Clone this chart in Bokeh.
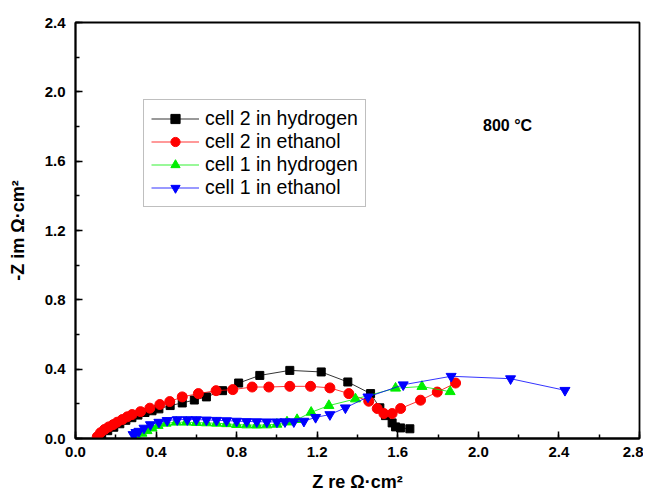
from bokeh.plotting import figure
from bokeh.models import Range1d, Legend, LegendItem, Label, SingleIntervalTicker, CustomJSTickFormatter
from bokeh.embed import file_html
from bokeh.resources import INLINE

# cell 2 in hydrogen
c2h_x = [0.13, 0.16, 0.19, 0.22, 0.25, 0.28, 0.31, 0.345, 0.38, 0.414, 0.47, 0.53, 0.59, 0.65,
         0.73, 0.81, 0.915, 1.064, 1.22, 1.352, 1.465, 1.511, 1.539, 1.572, 1.589, 1.614, 1.66]
c2h_y = [0.02, 0.045, 0.065, 0.085, 0.105, 0.12, 0.135, 0.15, 0.16, 0.171, 0.19, 0.205, 0.222, 0.24,
         0.276, 0.32, 0.364, 0.393, 0.384, 0.326, 0.259, 0.177, 0.132, 0.09, 0.067, 0.061, 0.056]
# cell 2 in ethanol
c2e_x = [0.108, 0.124, 0.144, 0.165, 0.187, 0.207, 0.232, 0.257, 0.281, 0.323, 0.369, 0.419, 0.468,
         0.53, 0.61, 0.698, 0.781, 0.877, 0.96, 1.064, 1.167, 1.263, 1.357, 1.456, 1.498, 1.531,
         1.572, 1.614, 1.713, 1.796, 1.887]
c2e_y = [0.01, 0.033, 0.052, 0.067, 0.08, 0.094, 0.109, 0.125, 0.138, 0.155, 0.175, 0.196, 0.213,
         0.24, 0.259, 0.276, 0.282, 0.297, 0.297, 0.301, 0.301, 0.292, 0.259, 0.215, 0.173, 0.144,
         0.144, 0.173, 0.221, 0.268, 0.32]
# cell 1 in hydrogen
c1h_x = [0.306, 0.33, 0.355, 0.38, 0.41, 0.45, 0.5, 0.55, 0.6, 0.65, 0.7, 0.75, 0.8, 0.85, 0.9,
         0.95, 1.0, 1.05, 1.1, 1.17, 1.258, 1.39, 1.589, 1.72, 1.86]
c1h_y = [0.01, 0.03, 0.045, 0.06, 0.075, 0.088, 0.094, 0.094, 0.092, 0.09, 0.088, 0.085, 0.08, 0.078,
         0.077, 0.078, 0.082, 0.095, 0.109, 0.151, 0.19, 0.228, 0.29, 0.30, 0.27]
# cell 1 in ethanol
c1e_x = [0.286, 0.30, 0.315, 0.34, 0.372, 0.414, 0.455, 0.505, 0.555, 0.6, 0.65, 0.7, 0.75, 0.8,
         0.85, 0.9, 0.95, 1.0, 1.04, 1.084, 1.134, 1.192, 1.263, 1.34, 1.452, 1.627, 1.865, 2.16, 2.43]
c1e_y = [0.023, 0.035, 0.042, 0.06, 0.08, 0.094, 0.104, 0.109, 0.109, 0.109, 0.107, 0.105, 0.103, 0.1,
         0.098, 0.097, 0.096, 0.096, 0.097, 0.097, 0.1, 0.122, 0.138, 0.177, 0.24, 0.31, 0.359, 0.345, 0.278]

FONT = "Liberation Sans"

p = figure(width=643, height=494, output_backend="svg", toolbar_location=None,
           x_range=Range1d(0, 2.8001), y_range=Range1d(0, 2.4001),
           min_border_left=75, min_border_top=22, min_border_right=4, min_border_bottom=55)
p.background_fill_color = "white"
p.border_fill_color = "white"
p.grid.visible = False
p.outline_line_color = "black"
p.outline_line_width = 1.8

p.xaxis.ticker = SingleIntervalTicker(interval=0.4, num_minor_ticks=2)
p.yaxis.ticker = SingleIntervalTicker(interval=0.4, num_minor_ticks=2)
for ax in (p.xaxis[0], p.yaxis[0]):
    ax.major_tick_in = 7
    ax.major_tick_out = 0
    ax.minor_tick_in = 4
    ax.minor_tick_out = 0
    ax.axis_line_width = 1.8
    ax.major_tick_line_width = 1.5
    ax.minor_tick_line_width = 1.5
    ax.major_label_text_font = FONT
    ax.major_label_text_font_style = "bold"
    ax.major_label_text_font_size = "15px"
    ax.major_label_text_color = "black"
    ax.axis_label_text_font = FONT
    ax.axis_label_text_font_style = "bold"
    ax.axis_label_text_font_size = "18px"
    ax.axis_label_text_color = "black"
fmt = CustomJSTickFormatter(code="return tick.toFixed(1);")
p.xaxis.formatter = fmt
p.yaxis.formatter = fmt
p.xaxis.axis_label = "Z re \u03a9\u00b7cm\u00b2"
p.yaxis.axis_label = "-Z im \u03a9\u00b7cm\u00b2"
p.xaxis.major_label_standoff = 8
p.yaxis.major_label_standoff = 10
p.xaxis.axis_label_standoff = 12
p.yaxis.axis_label_standoff = 14

series = [
    ("cell 2 in hydrogen", c2h_x, c2h_y, "black", "square", 8),
    ("cell 2 in ethanol", c2e_x, c2e_y, "red", "circle", 10),
    ("cell 1 in hydrogen", c1h_x, c1h_y, "#00ee00", "triangle", 10),
    ("cell 1 in ethanol", c1e_x, c1e_y, "blue", "inverted_triangle", 10),
]
items = []
for label, xs, ys, col, marker, size in series:
    lr = p.line(xs, ys, line_color=col, line_width=1, line_alpha=0.8)
    sr = p.scatter(xs, ys, marker=marker, size=size, fill_color=col, line_color=col)
    items.append(LegendItem(label=label, renderers=[lr, sr]))

legend = Legend(items=items, location=(68, 231))
legend.label_text_font = FONT
legend.label_text_font_size = "19.5px"
legend.label_text_color = "black"
legend.glyph_width = 48
legend.label_height = 23
legend.glyph_height = 23
legend.spacing = 0
legend.padding = 7
legend.label_standoff = 6
legend.border_line_color = "#808080"
legend.border_line_width = 1.5
legend.background_fill_alpha = 1
p.add_layout(legend)

p.add_layout(Label(x=2.145, y=1.807, text="800 \u00b0C", text_font=FONT, text_font_style="bold",
                   text_font_size="16px", text_align="center", text_baseline="middle",
                   text_color="black"))

open("out.html", "w").write(file_html(p, INLINE))
